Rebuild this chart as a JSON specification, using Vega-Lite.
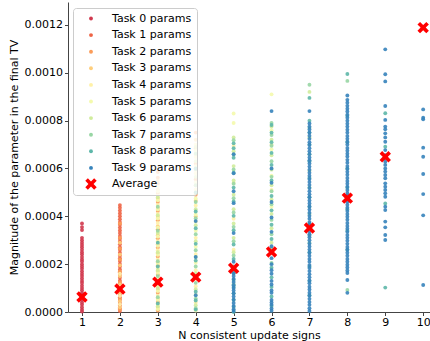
{
"$schema":"https://vega.github.io/schema/vega-lite/v6.json",
"autosize":{"type":"none"},
"width":362,"height":310,
"padding":{"left":68,"top":2,"right":0,"bottom":29},
"background":"white",
"config":{"view":{"stroke":null},"font":"DejaVu Sans"},
"data":{"values":[
{"n":1,"t":0,"v":0.02e-4},{"n":1,"t":0,"v":0.1e-4},{"n":1,"t":0,"v":0.2e-4},{"n":1,"t":0,"v":0.31e-4},{"n":1,"t":0,"v":0.4e-4},{"n":1,"t":0,"v":0.5e-4},{"n":1,"t":0,"v":0.61e-4},{"n":1,"t":0,"v":0.7e-4},{"n":1,"t":0,"v":0.8e-4},{"n":1,"t":0,"v":0.91e-4},{"n":1,"t":0,"v":1.0e-4},{"n":1,"t":0,"v":1.1e-4},{"n":1,"t":0,"v":1.21e-4},{"n":1,"t":0,"v":1.3e-4},{"n":1,"t":0,"v":1.4e-4},{"n":1,"t":0,"v":1.51e-4},{"n":1,"t":0,"v":1.6e-4},{"n":1,"t":0,"v":1.7e-4},{"n":1,"t":0,"v":1.81e-4},{"n":1,"t":0,"v":1.9e-4},{"n":1,"t":0,"v":2.0e-4},{"n":1,"t":0,"v":2.11e-4},{"n":1,"t":0,"v":2.2e-4},{"n":1,"t":0,"v":2.3e-4},{"n":1,"t":0,"v":2.41e-4},{"n":1,"t":0,"v":2.5e-4},{"n":1,"t":0,"v":2.6e-4},{"n":1,"t":0,"v":2.71e-4},{"n":1,"t":0,"v":2.8e-4},{"n":1,"t":0,"v":2.9e-4},{"n":1,"t":0,"v":3.0e-4},{"n":1,"t":0,"v":3.1e-4},{"n":1,"t":0,"v":3.43e-4},{"n":1,"t":0,"v":3.55e-4},{"n":1,"t":0,"v":3.7e-4},
{"n":2,"t":1,"v":0.04e-4},{"n":2,"t":1,"v":0.15e-4},{"n":2,"t":1,"v":0.27e-4},{"n":2,"t":1,"v":0.38e-4},{"n":2,"t":1,"v":0.5e-4},{"n":2,"t":1,"v":0.62e-4},{"n":2,"t":1,"v":0.73e-4},{"n":2,"t":1,"v":0.85e-4},{"n":2,"t":1,"v":0.96e-4},{"n":2,"t":1,"v":1.08e-4},{"n":2,"t":1,"v":1.2e-4},{"n":2,"t":1,"v":1.31e-4},{"n":2,"t":1,"v":1.43e-4},{"n":2,"t":1,"v":1.55e-4},{"n":2,"t":1,"v":1.66e-4},{"n":2,"t":1,"v":1.78e-4},{"n":2,"t":1,"v":1.9e-4},{"n":2,"t":1,"v":2.01e-4},{"n":2,"t":1,"v":2.13e-4},{"n":2,"t":1,"v":2.25e-4},{"n":2,"t":1,"v":2.36e-4},{"n":2,"t":1,"v":2.48e-4},{"n":2,"t":1,"v":2.6e-4},{"n":2,"t":1,"v":2.71e-4},{"n":2,"t":1,"v":2.83e-4},{"n":2,"t":1,"v":2.95e-4},{"n":2,"t":1,"v":3.06e-4},{"n":2,"t":1,"v":3.18e-4},{"n":2,"t":1,"v":3.3e-4},{"n":2,"t":1,"v":3.41e-4},{"n":2,"t":1,"v":3.53e-4},{"n":2,"t":1,"v":3.65e-4},{"n":2,"t":1,"v":3.76e-4},{"n":2,"t":1,"v":3.88e-4},{"n":2,"t":1,"v":4.0e-4},{"n":2,"t":1,"v":4.12e-4},{"n":2,"t":1,"v":4.24e-4},{"n":2,"t":1,"v":4.36e-4},{"n":2,"t":1,"v":4.47e-4},{"n":2,"t":1,"v":5.2e-4},
{"n":2,"t":2,"v":0.1e-4},{"n":2,"t":2,"v":0.55e-4},{"n":2,"t":2,"v":0.9e-4},{"n":2,"t":2,"v":1.25e-4},{"n":2,"t":2,"v":1.7e-4},{"n":2,"t":2,"v":2.2e-4},{"n":2,"t":2,"v":2.65e-4},{"n":2,"t":2,"v":3.1e-4},{"n":2,"t":2,"v":3.7e-4},
{"n":3,"t":2,"v":0.06e-4},{"n":3,"t":2,"v":0.42e-4},{"n":3,"t":2,"v":0.8e-4},{"n":3,"t":2,"v":1.18e-4},{"n":3,"t":2,"v":1.56e-4},{"n":3,"t":2,"v":1.94e-4},{"n":3,"t":2,"v":2.32e-4},{"n":3,"t":2,"v":2.7e-4},{"n":3,"t":2,"v":3.08e-4},{"n":3,"t":2,"v":3.46e-4},{"n":3,"t":2,"v":3.84e-4},{"n":3,"t":2,"v":4.22e-4},{"n":3,"t":2,"v":4.6e-4},{"n":3,"t":2,"v":4.98e-4},{"n":3,"t":2,"v":5.36e-4},{"n":3,"t":2,"v":5.62e-4},{"n":3,"t":2,"v":5.85e-4},
{"n":4,"t":2,"v":7.5e-4},{"n":4,"t":2,"v":6.85e-4},{"n":4,"t":2,"v":6.2e-4},{"n":4,"t":2,"v":5.55e-4},{"n":4,"t":2,"v":4.9e-4},
{"n":2,"t":3,"v":0.2e-4},{"n":2,"t":3,"v":0.45e-4},{"n":2,"t":3,"v":0.8e-4},{"n":2,"t":3,"v":1.15e-4},{"n":2,"t":3,"v":1.5e-4},{"n":2,"t":3,"v":1.95e-4},{"n":2,"t":3,"v":2.4e-4},{"n":2,"t":3,"v":2.9e-4},
{"n":3,"t":3,"v":0.18e-4},{"n":3,"t":3,"v":0.55e-4},{"n":3,"t":3,"v":0.93e-4},{"n":3,"t":3,"v":1.31e-4},{"n":3,"t":3,"v":1.69e-4},{"n":3,"t":3,"v":2.07e-4},{"n":3,"t":3,"v":2.45e-4},{"n":3,"t":3,"v":2.83e-4},{"n":3,"t":3,"v":3.21e-4},{"n":3,"t":3,"v":3.59e-4},{"n":3,"t":3,"v":3.97e-4},{"n":3,"t":3,"v":4.35e-4},{"n":3,"t":3,"v":4.73e-4},{"n":3,"t":3,"v":5.11e-4},{"n":3,"t":3,"v":5.49e-4},
{"n":4,"t":3,"v":7.2e-4},{"n":4,"t":3,"v":6.6e-4},{"n":4,"t":3,"v":5.95e-4},{"n":4,"t":3,"v":5.3e-4},{"n":4,"t":3,"v":4.65e-4},{"n":4,"t":3,"v":4.0e-4},
{"n":2,"t":4,"v":0.32e-4},{"n":2,"t":4,"v":0.68e-4},{"n":2,"t":4,"v":1.05e-4},{"n":2,"t":4,"v":1.6e-4},
{"n":3,"t":4,"v":0.3e-4},{"n":3,"t":4,"v":0.68e-4},{"n":3,"t":4,"v":1.06e-4},{"n":3,"t":4,"v":1.44e-4},{"n":3,"t":4,"v":1.82e-4},{"n":3,"t":4,"v":2.2e-4},{"n":3,"t":4,"v":2.58e-4},{"n":3,"t":4,"v":2.96e-4},{"n":3,"t":4,"v":3.34e-4},{"n":3,"t":4,"v":3.72e-4},{"n":3,"t":4,"v":4.1e-4},{"n":3,"t":4,"v":4.48e-4},{"n":3,"t":4,"v":4.86e-4},{"n":3,"t":4,"v":5.24e-4},
{"n":4,"t":4,"v":7.0e-4},{"n":4,"t":4,"v":6.48e-4},{"n":4,"t":4,"v":5.8e-4},{"n":4,"t":4,"v":5.12e-4},{"n":4,"t":4,"v":4.45e-4},{"n":4,"t":4,"v":3.78e-4},{"n":4,"t":4,"v":3.1e-4},{"n":4,"t":4,"v":2.42e-4},{"n":4,"t":4,"v":1.75e-4},{"n":4,"t":4,"v":1.08e-4},{"n":4,"t":4,"v":0.4e-4},
{"n":5,"t":4,"v":6.95e-4},{"n":5,"t":4,"v":5.4e-4},{"n":5,"t":4,"v":3.9e-4},{"n":5,"t":4,"v":2.6e-4},
{"n":6,"t":4,"v":7.0e-4},{"n":6,"t":4,"v":5.1e-4},
{"n":3,"t":5,"v":0.12e-4},{"n":3,"t":5,"v":0.5e-4},{"n":3,"t":5,"v":0.88e-4},{"n":3,"t":5,"v":1.25e-4},{"n":3,"t":5,"v":1.63e-4},{"n":3,"t":5,"v":2.01e-4},{"n":3,"t":5,"v":2.39e-4},{"n":3,"t":5,"v":2.77e-4},{"n":3,"t":5,"v":3.15e-4},{"n":3,"t":5,"v":3.53e-4},{"n":3,"t":5,"v":3.91e-4},{"n":3,"t":5,"v":4.29e-4},{"n":3,"t":5,"v":4.67e-4},{"n":3,"t":5,"v":5.05e-4},
{"n":4,"t":5,"v":6.75e-4},{"n":4,"t":5,"v":6.1e-4},{"n":4,"t":5,"v":5.42e-4},{"n":4,"t":5,"v":4.75e-4},{"n":4,"t":5,"v":4.08e-4},{"n":4,"t":5,"v":3.4e-4},{"n":4,"t":5,"v":2.73e-4},{"n":4,"t":5,"v":2.06e-4},{"n":4,"t":5,"v":1.39e-4},{"n":4,"t":5,"v":0.72e-4},{"n":4,"t":5,"v":0.06e-4},
{"n":5,"t":5,"v":8.3e-4},{"n":5,"t":5,"v":7.9e-4},
{"n":6,"t":5,"v":9.1e-4},{"n":6,"t":5,"v":7.6e-4},{"n":6,"t":5,"v":6.8e-4},{"n":6,"t":5,"v":5.7e-4},{"n":6,"t":5,"v":4.4e-4},
{"n":3,"t":6,"v":0.24e-4},{"n":3,"t":6,"v":1.0e-4},{"n":3,"t":6,"v":1.75e-4},{"n":3,"t":6,"v":2.5e-4},{"n":3,"t":6,"v":3.3e-4},{"n":3,"t":6,"v":4.05e-4},{"n":3,"t":6,"v":4.8e-4},
{"n":4,"t":6,"v":6.9e-4},{"n":4,"t":6,"v":6.3e-4},{"n":4,"t":6,"v":5.65e-4},{"n":4,"t":6,"v":4.98e-4},{"n":4,"t":6,"v":4.3e-4},{"n":4,"t":6,"v":3.63e-4},{"n":4,"t":6,"v":2.96e-4},{"n":4,"t":6,"v":2.3e-4},{"n":4,"t":6,"v":1.62e-4},{"n":4,"t":6,"v":0.95e-4},{"n":4,"t":6,"v":0.28e-4},
{"n":5,"t":6,"v":7.3e-4},{"n":5,"t":6,"v":6.72e-4},{"n":5,"t":6,"v":6.1e-4},{"n":5,"t":6,"v":5.5e-4},{"n":5,"t":6,"v":4.9e-4},{"n":5,"t":6,"v":4.3e-4},{"n":5,"t":6,"v":3.7e-4},{"n":5,"t":6,"v":3.1e-4},{"n":5,"t":6,"v":2.5e-4},
{"n":6,"t":6,"v":7.75e-4},{"n":6,"t":6,"v":7.2e-4},{"n":6,"t":6,"v":6.55e-4},{"n":6,"t":6,"v":5.95e-4},{"n":6,"t":6,"v":5.3e-4},{"n":6,"t":6,"v":4.7e-4},{"n":6,"t":6,"v":4.1e-4},{"n":6,"t":6,"v":3.5e-4},{"n":6,"t":6,"v":2.9e-4},
{"n":7,"t":6,"v":9.2e-4},{"n":7,"t":6,"v":7.3e-4},{"n":7,"t":6,"v":5.9e-4},
{"n":3,"t":7,"v":0.62e-4},{"n":3,"t":7,"v":1.5e-4},{"n":3,"t":7,"v":2.12e-4},{"n":3,"t":7,"v":3.4e-4},{"n":3,"t":7,"v":4.4e-4},
{"n":4,"t":7,"v":6.62e-4},{"n":4,"t":7,"v":5.98e-4},{"n":4,"t":7,"v":5.3e-4},{"n":4,"t":7,"v":4.6e-4},{"n":4,"t":7,"v":3.92e-4},{"n":4,"t":7,"v":3.25e-4},{"n":4,"t":7,"v":2.58e-4},{"n":4,"t":7,"v":1.9e-4},{"n":4,"t":7,"v":1.22e-4},{"n":4,"t":7,"v":0.56e-4},{"n":4,"t":7,"v":0.16e-4},
{"n":5,"t":7,"v":7.18e-4},{"n":5,"t":7,"v":6.58e-4},{"n":5,"t":7,"v":5.96e-4},{"n":5,"t":7,"v":5.36e-4},{"n":5,"t":7,"v":4.76e-4},{"n":5,"t":7,"v":4.16e-4},{"n":5,"t":7,"v":3.56e-4},{"n":5,"t":7,"v":2.96e-4},{"n":5,"t":7,"v":2.36e-4},{"n":5,"t":7,"v":1.76e-4},{"n":5,"t":7,"v":1.16e-4},
{"n":6,"t":7,"v":7.9e-4},{"n":6,"t":7,"v":7.4e-4},{"n":6,"t":7,"v":6.95e-4},{"n":6,"t":7,"v":6.3e-4},{"n":6,"t":7,"v":5.65e-4},{"n":6,"t":7,"v":5.05e-4},{"n":6,"t":7,"v":4.5e-4},{"n":6,"t":7,"v":3.85e-4},{"n":6,"t":7,"v":3.25e-4},{"n":6,"t":7,"v":2.65e-4},{"n":6,"t":7,"v":2.05e-4},
{"n":7,"t":7,"v":9.5e-4},{"n":7,"t":7,"v":7.7e-4},{"n":7,"t":7,"v":6.6e-4},{"n":7,"t":7,"v":5.2e-4},{"n":7,"t":7,"v":4.1e-4},{"n":7,"t":7,"v":2.9e-4},
{"n":8,"t":7,"v":9.66e-4},{"n":8,"t":7,"v":0.92e-4},
{"n":3,"t":8,"v":0.36e-4},{"n":3,"t":8,"v":1.9e-4},{"n":3,"t":8,"v":2.9e-4},
{"n":4,"t":8,"v":6.0e-4},{"n":4,"t":8,"v":5.0e-4},{"n":4,"t":8,"v":4.2e-4},{"n":4,"t":8,"v":3.5e-4},{"n":4,"t":8,"v":2.85e-4},{"n":4,"t":8,"v":2.15e-4},{"n":4,"t":8,"v":1.5e-4},{"n":4,"t":8,"v":0.85e-4},{"n":4,"t":8,"v":0.48e-4},{"n":4,"t":8,"v":0.1e-4},
{"n":5,"t":8,"v":7.05e-4},{"n":5,"t":8,"v":6.85e-4},{"n":5,"t":8,"v":6.45e-4},{"n":5,"t":8,"v":5.82e-4},{"n":5,"t":8,"v":5.2e-4},{"n":5,"t":8,"v":4.62e-4},{"n":5,"t":8,"v":4.02e-4},{"n":5,"t":8,"v":3.42e-4},{"n":5,"t":8,"v":2.82e-4},{"n":5,"t":8,"v":2.22e-4},{"n":5,"t":8,"v":1.9e-4},{"n":5,"t":8,"v":1.62e-4},{"n":5,"t":8,"v":1.35e-4},{"n":5,"t":8,"v":1.05e-4},{"n":5,"t":8,"v":0.78e-4},{"n":5,"t":8,"v":0.5e-4},{"n":5,"t":8,"v":0.22e-4},{"n":5,"t":8,"v":0.0},
{"n":6,"t":8,"v":7.82e-4},{"n":6,"t":8,"v":7.5e-4},{"n":6,"t":8,"v":7.1e-4},{"n":6,"t":8,"v":6.65e-4},{"n":6,"t":8,"v":6.15e-4},{"n":6,"t":8,"v":5.5e-4},{"n":6,"t":8,"v":4.85e-4},{"n":6,"t":8,"v":4.25e-4},{"n":6,"t":8,"v":3.65e-4},{"n":6,"t":8,"v":3.05e-4},{"n":6,"t":8,"v":2.45e-4},{"n":6,"t":8,"v":1.85e-4},{"n":6,"t":8,"v":1.45e-4},{"n":6,"t":8,"v":1.05e-4},{"n":6,"t":8,"v":0.65e-4},{"n":6,"t":8,"v":0.25e-4},
{"n":7,"t":8,"v":8.95e-4},{"n":7,"t":8,"v":8.0e-4},{"n":7,"t":8,"v":7.5e-4},{"n":7,"t":8,"v":7.0e-4},{"n":7,"t":8,"v":6.3e-4},{"n":7,"t":8,"v":5.6e-4},{"n":7,"t":8,"v":4.8e-4},{"n":7,"t":8,"v":4.4e-4},{"n":7,"t":8,"v":3.7e-4},{"n":7,"t":8,"v":3.2e-4},{"n":7,"t":8,"v":2.5e-4},{"n":7,"t":8,"v":1.9e-4},{"n":7,"t":8,"v":1.3e-4},{"n":7,"t":8,"v":0.7e-4},
{"n":8,"t":8,"v":9.95e-4},{"n":8,"t":8,"v":8.2e-4},{"n":8,"t":8,"v":7.1e-4},{"n":8,"t":8,"v":6.0e-4},{"n":8,"t":8,"v":5.2e-4},{"n":8,"t":8,"v":4.3e-4},{"n":8,"t":8,"v":3.4e-4},{"n":8,"t":8,"v":2.6e-4},
{"n":9,"t":8,"v":8.31e-4},{"n":9,"t":8,"v":6.91e-4},{"n":9,"t":8,"v":4.54e-4},{"n":9,"t":8,"v":1.02e-4},
{"n":4,"t":9,"v":3.8e-4},{"n":4,"t":9,"v":2.3e-4},{"n":4,"t":9,"v":0.7e-4},
{"n":5,"t":9,"v":6.6e-4},{"n":5,"t":9,"v":5.8e-4},{"n":5,"t":9,"v":5.05e-4},{"n":5,"t":9,"v":4.55e-4},{"n":5,"t":9,"v":3.3e-4},{"n":5,"t":9,"v":2.1e-4},{"n":5,"t":9,"v":1.78e-4},{"n":5,"t":9,"v":1.62e-4},{"n":5,"t":9,"v":1.5e-4},{"n":5,"t":9,"v":1.38e-4},{"n":5,"t":9,"v":1.25e-4},{"n":5,"t":9,"v":1.12e-4},{"n":5,"t":9,"v":1.0e-4},{"n":5,"t":9,"v":0.9e-4},{"n":5,"t":9,"v":0.78e-4},{"n":5,"t":9,"v":0.65e-4},{"n":5,"t":9,"v":0.52e-4},{"n":5,"t":9,"v":0.38e-4},{"n":5,"t":9,"v":0.25e-4},{"n":5,"t":9,"v":0.12e-4},{"n":5,"t":9,"v":0.04e-4},
{"n":6,"t":9,"v":8.4e-4},{"n":6,"t":9,"v":6.0e-4},{"n":6,"t":9,"v":5.4e-4},{"n":6,"t":9,"v":4.6e-4},{"n":6,"t":9,"v":3.95e-4},{"n":6,"t":9,"v":3.35e-4},{"n":6,"t":9,"v":2.75e-4},{"n":6,"t":9,"v":2.25e-4},{"n":6,"t":9,"v":2.0e-4},{"n":6,"t":9,"v":1.75e-4},{"n":6,"t":9,"v":1.6e-4},{"n":6,"t":9,"v":1.3e-4},{"n":6,"t":9,"v":1.15e-4},{"n":6,"t":9,"v":0.9e-4},{"n":6,"t":9,"v":0.8e-4},{"n":6,"t":9,"v":0.5e-4},{"n":6,"t":9,"v":0.4e-4},{"n":6,"t":9,"v":0.3e-4},{"n":6,"t":9,"v":0.15e-4},{"n":6,"t":9,"v":0.05e-4},
{"n":7,"t":9,"v":8.4e-4},{"n":7,"t":9,"v":7.88e-4},{"n":7,"t":9,"v":7.75e-4},{"n":7,"t":9,"v":7.63e-4},{"n":7,"t":9,"v":7.5e-4},{"n":7,"t":9,"v":7.37e-4},{"n":7,"t":9,"v":7.24e-4},{"n":7,"t":9,"v":7.1e-4},{"n":7,"t":9,"v":6.98e-4},{"n":7,"t":9,"v":6.85e-4},{"n":7,"t":9,"v":6.72e-4},{"n":7,"t":9,"v":6.6e-4},{"n":7,"t":9,"v":6.46e-4},{"n":7,"t":9,"v":6.34e-4},{"n":7,"t":9,"v":6.21e-4},{"n":7,"t":9,"v":6.08e-4},{"n":7,"t":9,"v":5.95e-4},{"n":7,"t":9,"v":5.82e-4},{"n":7,"t":9,"v":5.7e-4},{"n":7,"t":9,"v":5.56e-4},{"n":7,"t":9,"v":5.44e-4},{"n":7,"t":9,"v":5.31e-4},{"n":7,"t":9,"v":5.18e-4},{"n":7,"t":9,"v":5.05e-4},{"n":7,"t":9,"v":4.92e-4},{"n":7,"t":9,"v":4.8e-4},{"n":7,"t":9,"v":4.66e-4},{"n":7,"t":9,"v":4.54e-4},{"n":7,"t":9,"v":4.41e-4},{"n":7,"t":9,"v":4.28e-4},{"n":7,"t":9,"v":4.15e-4},{"n":7,"t":9,"v":4.02e-4},{"n":7,"t":9,"v":3.9e-4},{"n":7,"t":9,"v":3.76e-4},{"n":7,"t":9,"v":3.64e-4},{"n":7,"t":9,"v":3.51e-4},{"n":7,"t":9,"v":3.38e-4},{"n":7,"t":9,"v":3.25e-4},{"n":7,"t":9,"v":3.12e-4},{"n":7,"t":9,"v":3.0e-4},{"n":7,"t":9,"v":2.86e-4},{"n":7,"t":9,"v":2.74e-4},{"n":7,"t":9,"v":2.61e-4},{"n":7,"t":9,"v":2.48e-4},{"n":7,"t":9,"v":2.35e-4},{"n":7,"t":9,"v":2.22e-4},{"n":7,"t":9,"v":2.1e-4},{"n":7,"t":9,"v":1.96e-4},{"n":7,"t":9,"v":1.84e-4},{"n":7,"t":9,"v":1.71e-4},{"n":7,"t":9,"v":1.58e-4},{"n":7,"t":9,"v":1.45e-4},{"n":7,"t":9,"v":1.32e-4},{"n":7,"t":9,"v":1.2e-4},{"n":7,"t":9,"v":1.06e-4},{"n":7,"t":9,"v":0.94e-4},{"n":7,"t":9,"v":0.81e-4},{"n":7,"t":9,"v":0.68e-4},{"n":7,"t":9,"v":0.55e-4},{"n":7,"t":9,"v":0.42e-4},{"n":7,"t":9,"v":0.3e-4},{"n":7,"t":9,"v":0.16e-4},{"n":7,"t":9,"v":0.04e-4},
{"n":8,"t":9,"v":9.05e-4},{"n":8,"t":9,"v":8.87e-4},{"n":8,"t":9,"v":8.75e-4},{"n":8,"t":9,"v":8.62e-4},{"n":8,"t":9,"v":8.5e-4},{"n":8,"t":9,"v":8.38e-4},{"n":8,"t":9,"v":8.25e-4},{"n":8,"t":9,"v":8.12e-4},{"n":8,"t":9,"v":8.0e-4},{"n":8,"t":9,"v":7.87e-4},{"n":8,"t":9,"v":7.75e-4},{"n":8,"t":9,"v":7.62e-4},{"n":8,"t":9,"v":7.5e-4},{"n":8,"t":9,"v":7.36e-4},{"n":8,"t":9,"v":7.24e-4},{"n":8,"t":9,"v":7.12e-4},{"n":8,"t":9,"v":7.0e-4},{"n":8,"t":9,"v":6.86e-4},{"n":8,"t":9,"v":6.74e-4},{"n":8,"t":9,"v":6.62e-4},{"n":8,"t":9,"v":6.5e-4},{"n":8,"t":9,"v":6.36e-4},{"n":8,"t":9,"v":6.24e-4},{"n":8,"t":9,"v":6.1e-4},{"n":8,"t":9,"v":5.98e-4},{"n":8,"t":9,"v":5.86e-4},{"n":8,"t":9,"v":5.74e-4},{"n":8,"t":9,"v":5.6e-4},{"n":8,"t":9,"v":5.48e-4},{"n":8,"t":9,"v":5.36e-4},{"n":8,"t":9,"v":5.24e-4},{"n":8,"t":9,"v":5.1e-4},{"n":8,"t":9,"v":4.98e-4},{"n":8,"t":9,"v":4.86e-4},{"n":8,"t":9,"v":4.74e-4},{"n":8,"t":9,"v":4.6e-4},{"n":8,"t":9,"v":4.48e-4},{"n":8,"t":9,"v":4.36e-4},{"n":8,"t":9,"v":4.22e-4},{"n":8,"t":9,"v":4.1e-4},{"n":8,"t":9,"v":3.98e-4},{"n":8,"t":9,"v":3.86e-4},{"n":8,"t":9,"v":3.72e-4},{"n":8,"t":9,"v":3.6e-4},{"n":8,"t":9,"v":3.48e-4},{"n":8,"t":9,"v":3.35e-4},{"n":8,"t":9,"v":3.22e-4},{"n":8,"t":9,"v":3.1e-4},{"n":8,"t":9,"v":2.98e-4},{"n":8,"t":9,"v":2.85e-4},{"n":8,"t":9,"v":2.72e-4},{"n":8,"t":9,"v":2.6e-4},{"n":8,"t":9,"v":2.48e-4},{"n":8,"t":9,"v":2.35e-4},{"n":8,"t":9,"v":2.22e-4},{"n":8,"t":9,"v":2.1e-4},{"n":8,"t":9,"v":1.98e-4},{"n":8,"t":9,"v":1.86e-4},{"n":8,"t":9,"v":1.74e-4},{"n":8,"t":9,"v":1.63e-4},{"n":8,"t":9,"v":1.34e-4},{"n":8,"t":9,"v":0.8e-4},
{"n":9,"t":9,"v":10.98e-4},{"n":9,"t":9,"v":9.94e-4},{"n":9,"t":9,"v":9.64e-4},{"n":9,"t":9,"v":8.61e-4},{"n":9,"t":9,"v":8.03e-4},{"n":9,"t":9,"v":7.75e-4},{"n":9,"t":9,"v":7.64e-4},{"n":9,"t":9,"v":7.47e-4},{"n":9,"t":9,"v":7.3e-4},{"n":9,"t":9,"v":7.12e-4},{"n":9,"t":9,"v":6.77e-4},{"n":9,"t":9,"v":6.56e-4},{"n":9,"t":9,"v":6.42e-4},{"n":9,"t":9,"v":6.28e-4},{"n":9,"t":9,"v":6.15e-4},{"n":9,"t":9,"v":6.0e-4},{"n":9,"t":9,"v":5.87e-4},{"n":9,"t":9,"v":5.73e-4},{"n":9,"t":9,"v":5.59e-4},{"n":9,"t":9,"v":5.38e-4},{"n":9,"t":9,"v":5.24e-4},{"n":9,"t":9,"v":5.1e-4},{"n":9,"t":9,"v":4.96e-4},{"n":9,"t":9,"v":4.82e-4},{"n":9,"t":9,"v":4.4e-4},{"n":9,"t":9,"v":4.26e-4},{"n":9,"t":9,"v":3.78e-4},{"n":9,"t":9,"v":3.54e-4},{"n":9,"t":9,"v":3.22e-4},{"n":9,"t":9,"v":3.01e-4},
{"n":10,"t":9,"v":8.47e-4},{"n":10,"t":9,"v":8.12e-4},{"n":10,"t":9,"v":8.06e-4},{"n":10,"t":9,"v":6.87e-4},{"n":10,"t":9,"v":6.49e-4},{"n":10,"t":9,"v":5.77e-4},{"n":10,"t":9,"v":4.93e-4},{"n":10,"t":9,"v":4.04e-4},{"n":10,"t":9,"v":1.13e-4},
{"n":1,"t":10,"v":0.63e-4},{"n":2,"t":10,"v":0.96e-4},{"n":3,"t":10,"v":1.25e-4},{"n":4,"t":10,"v":1.46e-4},{"n":5,"t":10,"v":1.83e-4},{"n":6,"t":10,"v":2.51e-4},{"n":7,"t":10,"v":3.51e-4},{"n":8,"t":10,"v":4.76e-4},{"n":9,"t":10,"v":6.49e-4},{"n":10,"t":10,"v":11.89e-4}
]},
"mark":{"type":"point","filled":true},
"encoding":{
"x":{"field":"n","type":"quantitative","scale":{"domain":[0.631,10.18],"nice":false,"zero":false},
 "axis":{"title":"N consistent update signs","values":[1,2,3,4,5,6,7,8,9,10],"format":"d","grid":false,"labelFlush":false,"labelOverlap":false,"domainColor":"#444444","tickColor":"#444444","tickSize":3.5,"labelFont":"DejaVu Sans","labelFontSize":11,"labelColor":"black","labelPadding":1,"titleFont":"DejaVu Sans","titleFontSize":11,"titleFontWeight":"normal","titleColor":"black","titlePadding":2}},
"y":{"field":"v","type":"quantitative","scale":{"domain":[0,0.001296],"nice":false},
 "axis":{"title":"Magnitude of the parameter in the final TV","values":[0,0.0002,0.0004,0.0006,0.0008,0.001,0.0012],"format":".4f","grid":false,"labelFlush":false,"labelOverlap":false,"domainColor":"#444444","tickColor":"#444444","tickSize":3.5,"labelFont":"DejaVu Sans","labelFontSize":11,"labelColor":"black","labelPadding":2,"titleFont":"DejaVu Sans","titleFontSize":11,"titleFontWeight":"normal","titleColor":"black","titlePadding":5}},
"color":{"field":"t","type":"nominal","scale":{"domain":[0,1,2,3,4,5,6,7,8,9,10],"range":["#d0384e","#ee6445","#fb9c59","#fece7c","#fff1a7","#f4faad","#d0ec9c","#98d6a4","#5db7a9","#3683bb","#ff0000"]},
 "legend":{"orient":"none","legendX":5,"legendY":6,"title":null,"labelExpr":"datum.value == 10 ? 'Average' : 'Task ' + datum.value + ' params'","labelFont":"DejaVu Sans","labelFontSize":11,"labelColor":"black","symbolOffset":7,"labelOffset":15,"padding":5,"rowPadding":4.6,"fillColor":"rgba(255,255,255,0.8)","strokeColor":"#cccccc","cornerRadius":3,"symbolStrokeWidth":0}},
"shape":{"field":"t","type":"nominal","scale":{"domain":[0,1,2,3,4,5,6,7,8,9,10],"range":["circle","circle","circle","circle","circle","circle","circle","circle","circle","circle","M-1,-0.55L-0.55,-1L0,-0.45L0.55,-1L1,-0.55L0.45,0L1,0.55L0.55,1L0,0.45L-0.55,1L-1,0.55L-0.45,0Z"]}},
"size":{"field":"t","type":"nominal","scale":{"type":"ordinal","domain":[0,1,2,3,4,5,6,7,8,9,10],"range":[15,15,15,15,15,15,15,15,15,15,130]}},
"opacity":{"condition":{"test":"datum.t == 10","value":1},"value":0.9}
}
}
